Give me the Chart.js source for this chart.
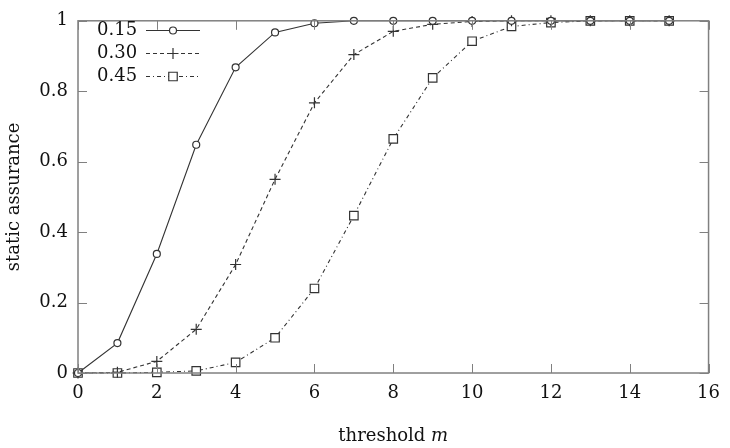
<!DOCTYPE html>
<html>
<head>
<meta charset="utf-8">
<script src="https://cdn.jsdelivr.net/npm/chart.js@4/dist/chart.umd.min.js"></script>
<style>
  html, body { margin: 0; padding: 0; background: #fff; }
  #wrap { width: 730px; height: 448px; }
</style>
</head>
<body>
<div id="wrap"><canvas id="chart" width="730" height="448"></canvas></div>
<script>
const thresholds = [0, 1, 2, 3, 4, 5, 6, 7, 8, 9, 10, 11, 12, 13, 14, 15];
const labels = ["0.15", "0.30", "0.45"];
const s015 = [0, 0.085, 0.338, 0.648, 0.868, 0.967, 0.993, 1, 1, 1, 1, 1, 1, 1, 1, 1];
const s030 = [0, 0.002, 0.033, 0.124, 0.308, 0.55, 0.767, 0.904, 0.97, 0.99, 0.998, 1, 1, 1, 1, 1];
const s045 = [0, 0, 0.002, 0.006, 0.03, 0.1, 0.24, 0.447, 0.665, 0.838, 0.942, 0.984, 0.995, 1, 1, 1];
const xTicks = [0, 2, 4, 6, 8, 10, 12, 14, 16];
const yTicks = [0, 0.2, 0.4, 0.6, 0.8, 1];

const lineColor = "#333";
const frameColor = "#808080";
const font = "'DejaVu Serif', 'Liberation Serif', serif";

function pts(values) {
  return thresholds.map((x, i) => ({ x: x, y: values[i] }));
}

const styles = [
  { dash: [], pointStyle: "circle", radius: 3.5 },
  { dash: [4, 3], pointStyle: "cross", radius: 5.5 },
  { dash: [4, 3, 1, 3], pointStyle: "rect", radius: 6 },
];

const series = [s015, s030, s045];

// frame + inward ticks, gnuplot style
const framePlugin = {
  id: "frame",
  afterDatasetsDraw(chart) {
    const { ctx, chartArea: a, scales } = chart;
    ctx.save();
    ctx.strokeStyle = frameColor;
    ctx.lineWidth = 1.5;
    ctx.strokeRect(a.left, a.top, a.right - a.left, a.bottom - a.top);
    ctx.lineWidth = 1;
    ctx.beginPath();
    xTicks.forEach((v) => {
      const px = Math.round(scales.x.getPixelForValue(v)) + 0.5;
      ctx.moveTo(px, a.bottom); ctx.lineTo(px, a.bottom - 9);
      ctx.moveTo(px, a.top); ctx.lineTo(px, a.top + 9);
    });
    yTicks.forEach((v) => {
      const py = Math.round(scales.y.getPixelForValue(v)) + 0.5;
      ctx.moveTo(a.left, py); ctx.lineTo(a.left + 9, py);
      ctx.moveTo(a.right, py); ctx.lineTo(a.right - 9, py);
    });
    ctx.stroke();

    // axis titles, with italic m
    ctx.fillStyle = "#111";
    ctx.textBaseline = "alphabetic";
    ctx.textAlign = "left";
    const up = "18px " + font;
    const it = "italic 18px " + font;
    ctx.font = up;
    const w1 = ctx.measureText("threshold ").width;
    ctx.font = it;
    const w2 = ctx.measureText("m").width;
    const cx = (a.left + a.right) / 2;
    let x0 = cx - (w1 + w2) / 2;
    ctx.font = up;
    ctx.fillText("threshold ", x0, 441);
    ctx.font = it;
    ctx.fillText("m", x0 + w1, 441);

    ctx.translate(19, (a.top + a.bottom) / 2);
    ctx.rotate(-Math.PI / 2);
    ctx.font = up;
    ctx.textAlign = "center";
    ctx.fillText("static assurance", 0, 0);
    ctx.restore();
  },
};

// legend inside top-left: label, then line sample with marker
const legendPlugin = {
  id: "insideLegend",
  afterDatasetsDraw(chart) {
    const { ctx } = chart;
    ctx.save();
    chart.data.datasets.forEach((ds, i) => {
      const y = 30 + i * 23;
      ctx.fillStyle = "#111";
      ctx.font = "18px " + font;
      ctx.textAlign = "left";
      ctx.textBaseline = "middle";
      ctx.fillText(ds.label, 97, y);
      ctx.strokeStyle = lineColor;
      ctx.lineWidth = 1.1;
      ctx.setLineDash(styles[i].dash);
      ctx.beginPath();
      ctx.moveTo(146, y + 0.5);
      ctx.lineTo(200, y + 0.5);
      ctx.stroke();
      ctx.setLineDash([]);
      ctx.fillStyle = "#fff";
      ctx.strokeStyle = lineColor;
      ctx.lineWidth = 1.2;
      Chart.helpers.drawPoint(ctx, {
        pointStyle: styles[i].pointStyle,
        radius: styles[i].radius,
        borderWidth: 1.2,
      }, 173, y + 0.5);
    });
    ctx.restore();
  },
};

new Chart(document.getElementById("chart"), {
  type: "line",
  data: {
    datasets: series.map((values, i) => ({
      label: labels[i],
      data: pts(values),
      borderColor: lineColor,
      backgroundColor: "#fff",
      borderWidth: 1.1,
      borderDash: styles[i].dash,
      pointStyle: styles[i].pointStyle,
      pointRadius: styles[i].radius,
      pointBorderColor: lineColor,
      pointBackgroundColor: "#fff",
      pointBorderWidth: 1.2,
      tension: 0,
      clip: false,
    })),
  },
  options: {
    responsive: false,
    animation: false,
    layout: { padding: { top: 9, right: 17, left: 0, bottom: 0 } },
    plugins: {
      legend: { display: false },
      tooltip: { enabled: false },
    },
    scales: {
      x: {
        type: "linear",
        min: 0,
        max: 16,
        afterBuildTicks(scale) { scale.ticks = xTicks.map((v) => ({ value: v })); },
        afterFit(scale) { scale.height = 75; },
        grid: { display: false, drawTicks: false },
        border: { display: false },
        ticks: { color: "#111", font: { family: font, size: 18 }, padding: 10 },
      },
      y: {
        type: "linear",
        min: 0,
        max: 1,
        afterBuildTicks(scale) { scale.ticks = yTicks.map((v) => ({ value: v })); },
        afterFit(scale) { scale.width = 78; },
        grid: { display: false, drawTicks: false },
        border: { display: false },
        ticks: {
          color: "#111",
          font: { family: font, size: 18 },
          padding: 10,
          callback: (v) => String(v),
        },
      },
    },
  },
  plugins: [framePlugin, legendPlugin],
});
</script>
</body>
</html>
